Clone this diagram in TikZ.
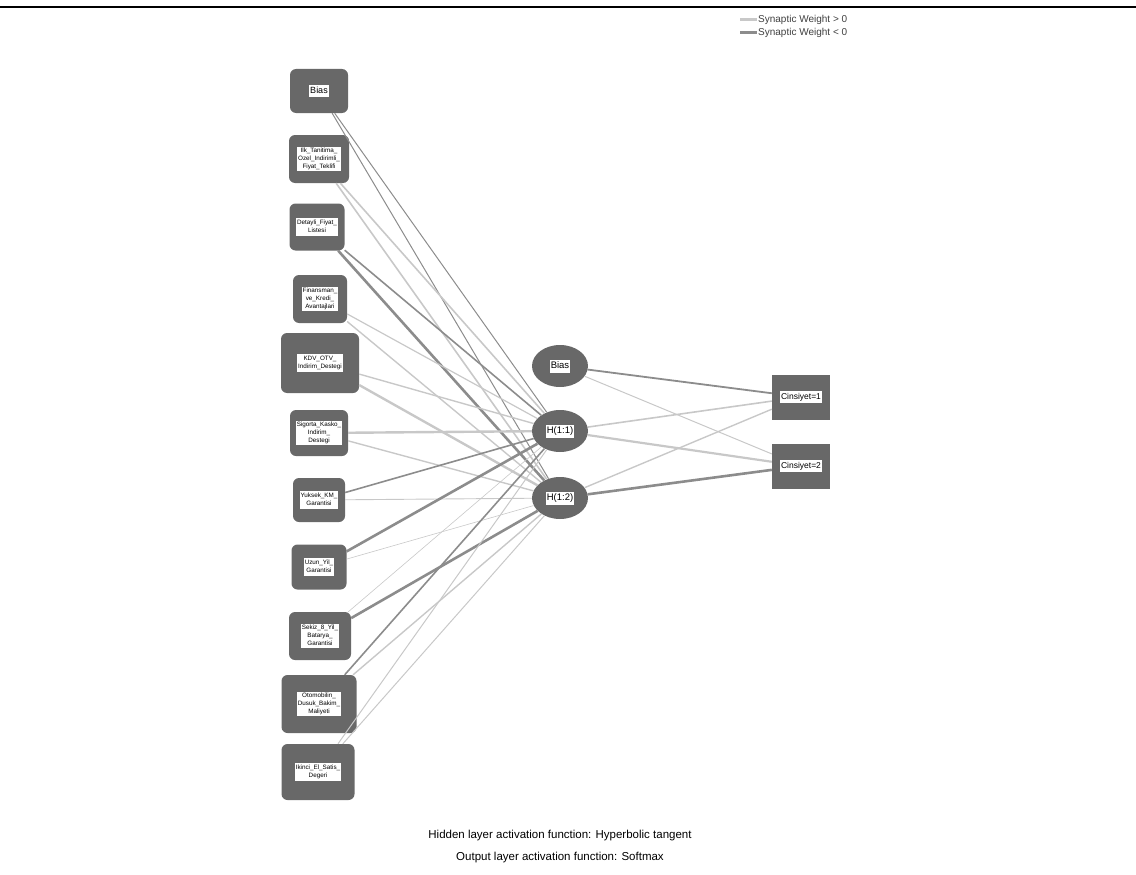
\documentclass[tikz,border=0pt]{standalone}
\usepackage{fontspec}
\setmainfont{Liberation Sans}
\usetikzlibrary{shapes.geometric}
\definecolor{nodegray}{RGB}{104,104,104}
\definecolor{poscol}{RGB}{200,200,200}
\definecolor{negcol}{RGB}{140,140,140}
\newcommand{\wlab}[1]{{\setlength{\fboxsep}{1pt}\colorbox{white}{\begin{tabular}{@{}c@{}}#1\end{tabular}}}}
\begin{document}
\begin{tikzpicture}[x=1pt,y=-1pt,
  inbox/.style={fill=nodegray,rounded corners=6pt,inner sep=0pt,font=\fontsize{6.3}{7.6}\selectfont},
  hidnode/.style={ellipse,fill=nodegray,minimum width=56pt,minimum height=42pt,inner sep=0pt,font=\fontsize{9.5}{11}\selectfont},
  outbox/.style={fill=nodegray,minimum width=58pt,minimum height=45pt,inner sep=0pt,font=\fontsize{8.5}{10}\selectfont},
  lpos/.style={draw=poscol,line width=#1},
  lneg/.style={draw=negcol,line width=#1}]
\useasboundingbox (0,0) rectangle (1136,875);
\draw [line width=2pt] (0,7) -- (1136,7);
% input layer
\node[inbox,minimum width=58pt,minimum height=44pt,font=\fontsize{9}{10}\selectfont] (ib) at (319,91) {\wlab{Bias}};
\node[inbox,minimum width=60pt,minimum height=48pt] (i1) at (319,159) {\wlab{Ilk\_Tanitima\_\\Ozel\_Indirimli\_\\Fiyat\_Teklifi}};
\node[inbox,minimum width=55pt,minimum height=47pt] (i2) at (317,227) {\wlab{Detayli\_Fiyat\_\\Listesi}};
\node[inbox,minimum width=54pt,minimum height=48pt] (i3) at (320,299) {\wlab{Finansman\_\\ve\_Kredi\_\\Avantajlari}};
\node[inbox,minimum width=78pt,minimum height=60pt] (i4) at (320,363) {\wlab{KDV\_OTV\_\\Indirim\_Destegi}};
\node[inbox,minimum width=58pt,minimum height=46pt] (i5) at (319,433) {\wlab{Sigorta\_Kasko\_\\Indirim\_\\Destegi}};
\node[inbox,minimum width=52pt,minimum height=44pt] (i6) at (319,500) {\wlab{Yuksek\_KM\_\\Garantisi}};
\node[inbox,minimum width=55pt,minimum height=45pt] (i7) at (319,567) {\wlab{Uzun\_Yil\_\\Garantisi}};
\node[inbox,minimum width=62pt,minimum height=48pt] (i8) at (320,636) {\wlab{Sekiz\_8\_Yil\_\\Batarya\_\\Garantisi}};
\node[inbox,minimum width=75pt,minimum height=58pt] (i9) at (319,704) {\wlab{Otomobilin\_\\Dusuk\_Bakim\_\\Maliyeti}};
\node[inbox,minimum width=73pt,minimum height=56pt] (i10) at (318,772) {\wlab{Ikinci\_El\_Satis\_\\Degeri}};
% hidden layer
\node[hidnode] (hb) at (560,366) {\wlab{Bias}};
\node[hidnode] (h1) at (560,431) {\wlab{H(1:1)}};
\node[hidnode] (h2) at (560,498) {\wlab{H(1:2)}};
% output layer
\node[outbox] (o1) at (801,397) {\wlab{Cinsiyet=1}};
\node[outbox] (o2) at (801,466) {\wlab{Cinsiyet=2}};
% weights input -> hidden
\draw [lneg=1pt] (ib) -- (h1);
\draw [lneg=1pt] (ib) -- (h2);
\draw [lpos=1.6pt] (i1) -- (h1);
\draw [lpos=1.6pt] (i1) -- (h2);
\draw [lneg=1.6pt] (i2) -- (h1);
\draw [lneg=2.6pt] (i2) -- (h2);
\draw [lpos=1.2pt] (i3) -- (h1);
\draw [lpos=1.4pt] (i3) -- (h2);
\draw [lpos=1.4pt] (i4) -- (h1);
\draw [lpos=2.4pt] (i4) -- (h2);
\draw [lpos=2.4pt] (i5) -- (h1);
\draw [lpos=1.4pt] (i5) -- (h2);
\draw [lneg=1.6pt] (i6) -- (h1);
\draw [lpos=0.9pt] (i6) -- (h2);
\draw [lneg=2.6pt] (i7) -- (h1);
\draw [lpos=0.6pt] (i7) -- (h2);
\draw [lpos=0.6pt] (i8) -- (h1);
\draw [lneg=2.6pt] (i8) -- (h2);
\draw [lneg=1.6pt] (i9) -- (h1);
\draw [lpos=1.4pt] (i9) -- (h2);
\draw [lpos=1pt] (i10) -- (h1);
\draw [lpos=1pt] (i10) -- (h2);
% weights hidden -> output
\draw [lneg=1.8pt] (hb) -- (o1);
\draw [lpos=1pt] (hb) -- (o2);
\draw [lpos=1.6pt] (h1) -- (o1);
\draw [lpos=2.2pt] (h1) -- (o2);
\draw [lpos=1.4pt] (h2) -- (o1);
\draw [lneg=2.6pt] (h2) -- (o2);
% legend
\coordinate (lgp1) at (740,20);
\coordinate (lgp2) at (757,20);
\coordinate (lgn1) at (740,33);
\coordinate (lgn2) at (757,33);
\draw [lpos=3pt] (lgp1) -- (lgp2);
\draw [lneg=3pt] (lgn1) -- (lgn2);
\node[anchor=west,inner sep=1pt,font=\fontsize{10}{12}\selectfont,text=black!75] (lgtp) at (lgp2) {Synaptic Weight > 0};
\node[anchor=west,inner sep=1pt,font=\fontsize{10}{12}\selectfont,text=black!75] (lgtn) at (lgn2) {Synaptic Weight < 0};
% captions
\node[font=\fontsize{11.5}{13}\selectfont] (cap1) at (560,836) {Hidden layer activation function: Hyperbolic tangent};
\node[font=\fontsize{11.5}{13}\selectfont] (cap2) at (560,858) {Output layer activation function: Softmax};
\end{tikzpicture}
\end{document}
